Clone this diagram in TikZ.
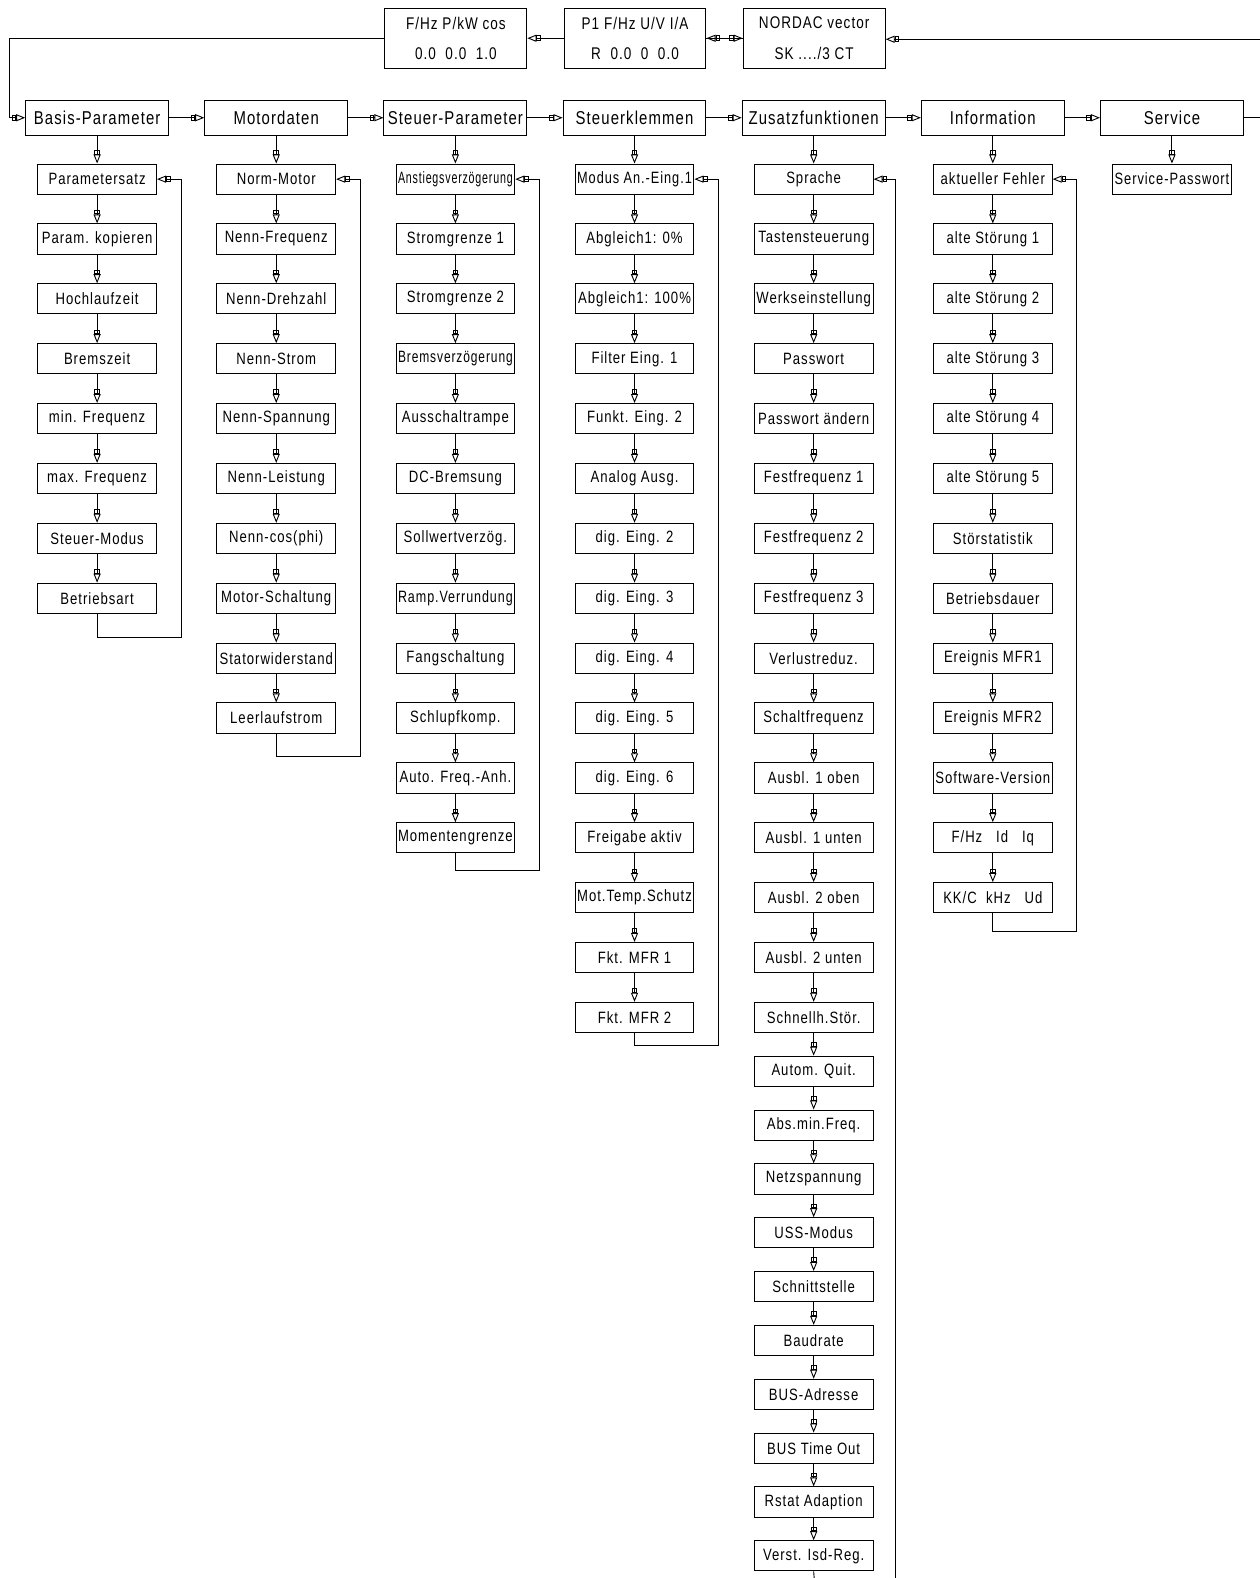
\documentclass[tikz,border=0pt]{standalone}
\usepackage{fontspec}
\usepackage{graphicx}
\setmainfont{Liberation Sans}[FakeStretch=0.8,LetterSpace=6]
\usetikzlibrary{arrows.meta}

% squeeze a label that is wider than its box
\newcommand\fitlabel[2][114pt]{\sbox0{#2}\ifdim\wd0>#1\resizebox{#1}{\height}{\usebox0}\else\usebox0\fi}

\tikzset{
  flow/.tip={Square[open,length=4.5pt,width=5.5pt,sep=0pt] Triangle[open,length=9pt,width=7pt]},
  menu/.style={draw,line width=1pt,minimum width=142,minimum height=35,inner sep=1pt,
    font=\fontsize{18.5}{20}\selectfont},
  item/.style={draw,line width=1pt,minimum width=118,minimum height=30,inner sep=1pt,
    font=\fontsize{16.3}{18}\selectfont},
  display/.style={draw,line width=1pt,minimum width=141,minimum height=60,inner sep=1pt,
    align=center,font=\fontsize{16.8}{30}\selectfont},
  link/.style={line width=0.9pt,-{flow}},
  wire/.style={line width=0.9pt}
}

\begin{document}
\begin{tikzpicture}[x=1pt,y=-1pt]
  \useasboundingbox (0,0) rectangle (1252,1568);
  % display boxes
  \node[display] (A) at (453,38) {F/Hz P/kW cos\\0.0~~0.0~~1.0};
  \node[display] (B) at (631,38) {P1 F/Hz U/V I/A\\R~~0.0~~0~~0.0};
  \node[display] (C) at (809,38) {NORDAC vector\\SK ..../3 CT};
  \draw[link] (B) -- (A);
  \draw[link] (B) -- (C);
  \draw[link] (C) -- (B);
  % main menu row
  \foreach \c/\entry in {1/Basis-Parameter,2/Motordaten,3/Steuer-Parameter,4/Steuerklemmen,
    5/Zusatzfunktionen,6/Information,7/Service}
    \node[menu] (c\c-0) at ({96.5+178*(\c-1)},117) {\fitlabel[136pt]{\entry}};
  \foreach \c [count=\k from 2] in {1,...,6}
    \draw[link] (c\c-0) -- (c\k-0);
  \coordinate (left) at (9,117);
  \coordinate (right) at (1252,117);
  \coordinate (top) at (1252,39);
  \draw[link] (A.west) -| (left) -- (c1-0.west);
  \draw[wire] (c7-0.east) -- (right);
  \draw[link] (top) -- (top -| C.east);
  % parameter columns, \dy = drop of the return line below the last box
  \foreach \c/\dy/\items in {
    1/23/{Parametersatz,Param. kopieren,Hochlaufzeit,Bremszeit,min. Frequenz,max. Frequenz,
       Steuer-Modus,Betriebsart},
    2/23/{Norm-Motor,Nenn-Frequenz,Nenn-Drehzahl,Nenn-Strom,Nenn-Spannung,Nenn-Leistung,
       {Nenn-cos(phi)},Motor-Schaltung,Statorwiderstand,Leerlaufstrom},
    3/17/{Anstiegsverzögerung,Stromgrenze 1,Stromgrenze 2,Bremsverzögerung,Ausschaltrampe,
       DC-Bremsung,Sollwertverzög.,Ramp.Verrundung,Fangschaltung,Schlupfkomp.,
       Auto. Freq.-Anh.,Momentengrenze},
    4/12/{Modus An.-Eing.1,Abgleich1: 0\%,Abgleich1: 100\%,Filter Eing. 1,Funkt. Eing. 2,
       Analog Ausg.,dig. Eing. 2,dig. Eing. 3,dig. Eing. 4,dig. Eing. 5,dig. Eing. 6,
       Freigabe aktiv,Mot.Temp.Schutz,Fkt. MFR 1,Fkt. MFR 2},
    5/0/{Sprache,Tastensteuerung,Werkseinstellung,Passwort,Passwort ändern,Festfrequenz 1,
       Festfrequenz 2,Festfrequenz 3,Verlustreduz.,Schaltfrequenz,Ausbl. 1 oben,
       Ausbl. 1 unten,Ausbl. 2 oben,Ausbl. 2 unten,Schnellh.Stör.,Autom. Quit.,
       Abs.min.Freq.,Netzspannung,USS-Modus,Schnittstelle,Baudrate,BUS-Adresse,
       BUS Time Out,Rstat Adaption,Verst. Isd-Reg.},
    6/18/{aktueller Fehler,alte Störung 1,alte Störung 2,alte Störung 3,alte Störung 4,
       alte Störung 5,Störstatistik,Betriebsdauer,Ereignis MFR1,Ereignis MFR2,
       Software-Version,F/Hz~~~Id~~~Iq,KK/C~~kHz~~~Ud},
    7/0/{Service-Passwort}}
  {
    \foreach \entry [count=\r, remember=\r as \prev (initially 0)] in \items {
      \pgfmathsetmacro\xx{96.5+178*(\c-1)}
      \pgfmathsetmacro\yy{\r<16 ? 178+59.5*(\r-1) : 1011+53.5*(\r-15)}
      \node[item] (c\c-\r) at (\xx,\yy) {\fitlabel{\entry}};
      \draw[link] (c\c-\prev) -- (c\c-\r);
      \xdef\lastrow{\r}
    }
    % return loop
    \ifnum\dy>0
      \draw[link] (c\c-\lastrow.south) -- ++(0,\dy)
        -| ([xshift=24pt]c\c-1.east) -- (c\c-1.east);
    \fi
  }
  \coordinate (down5) at (809,1568);
  \coordinate (back5) at (890,1568);
  \draw[wire] (c5-25.south) -- (down5);
  \draw[link] (back5) |- (c5-1.east);
\end{tikzpicture}
\end{document}
